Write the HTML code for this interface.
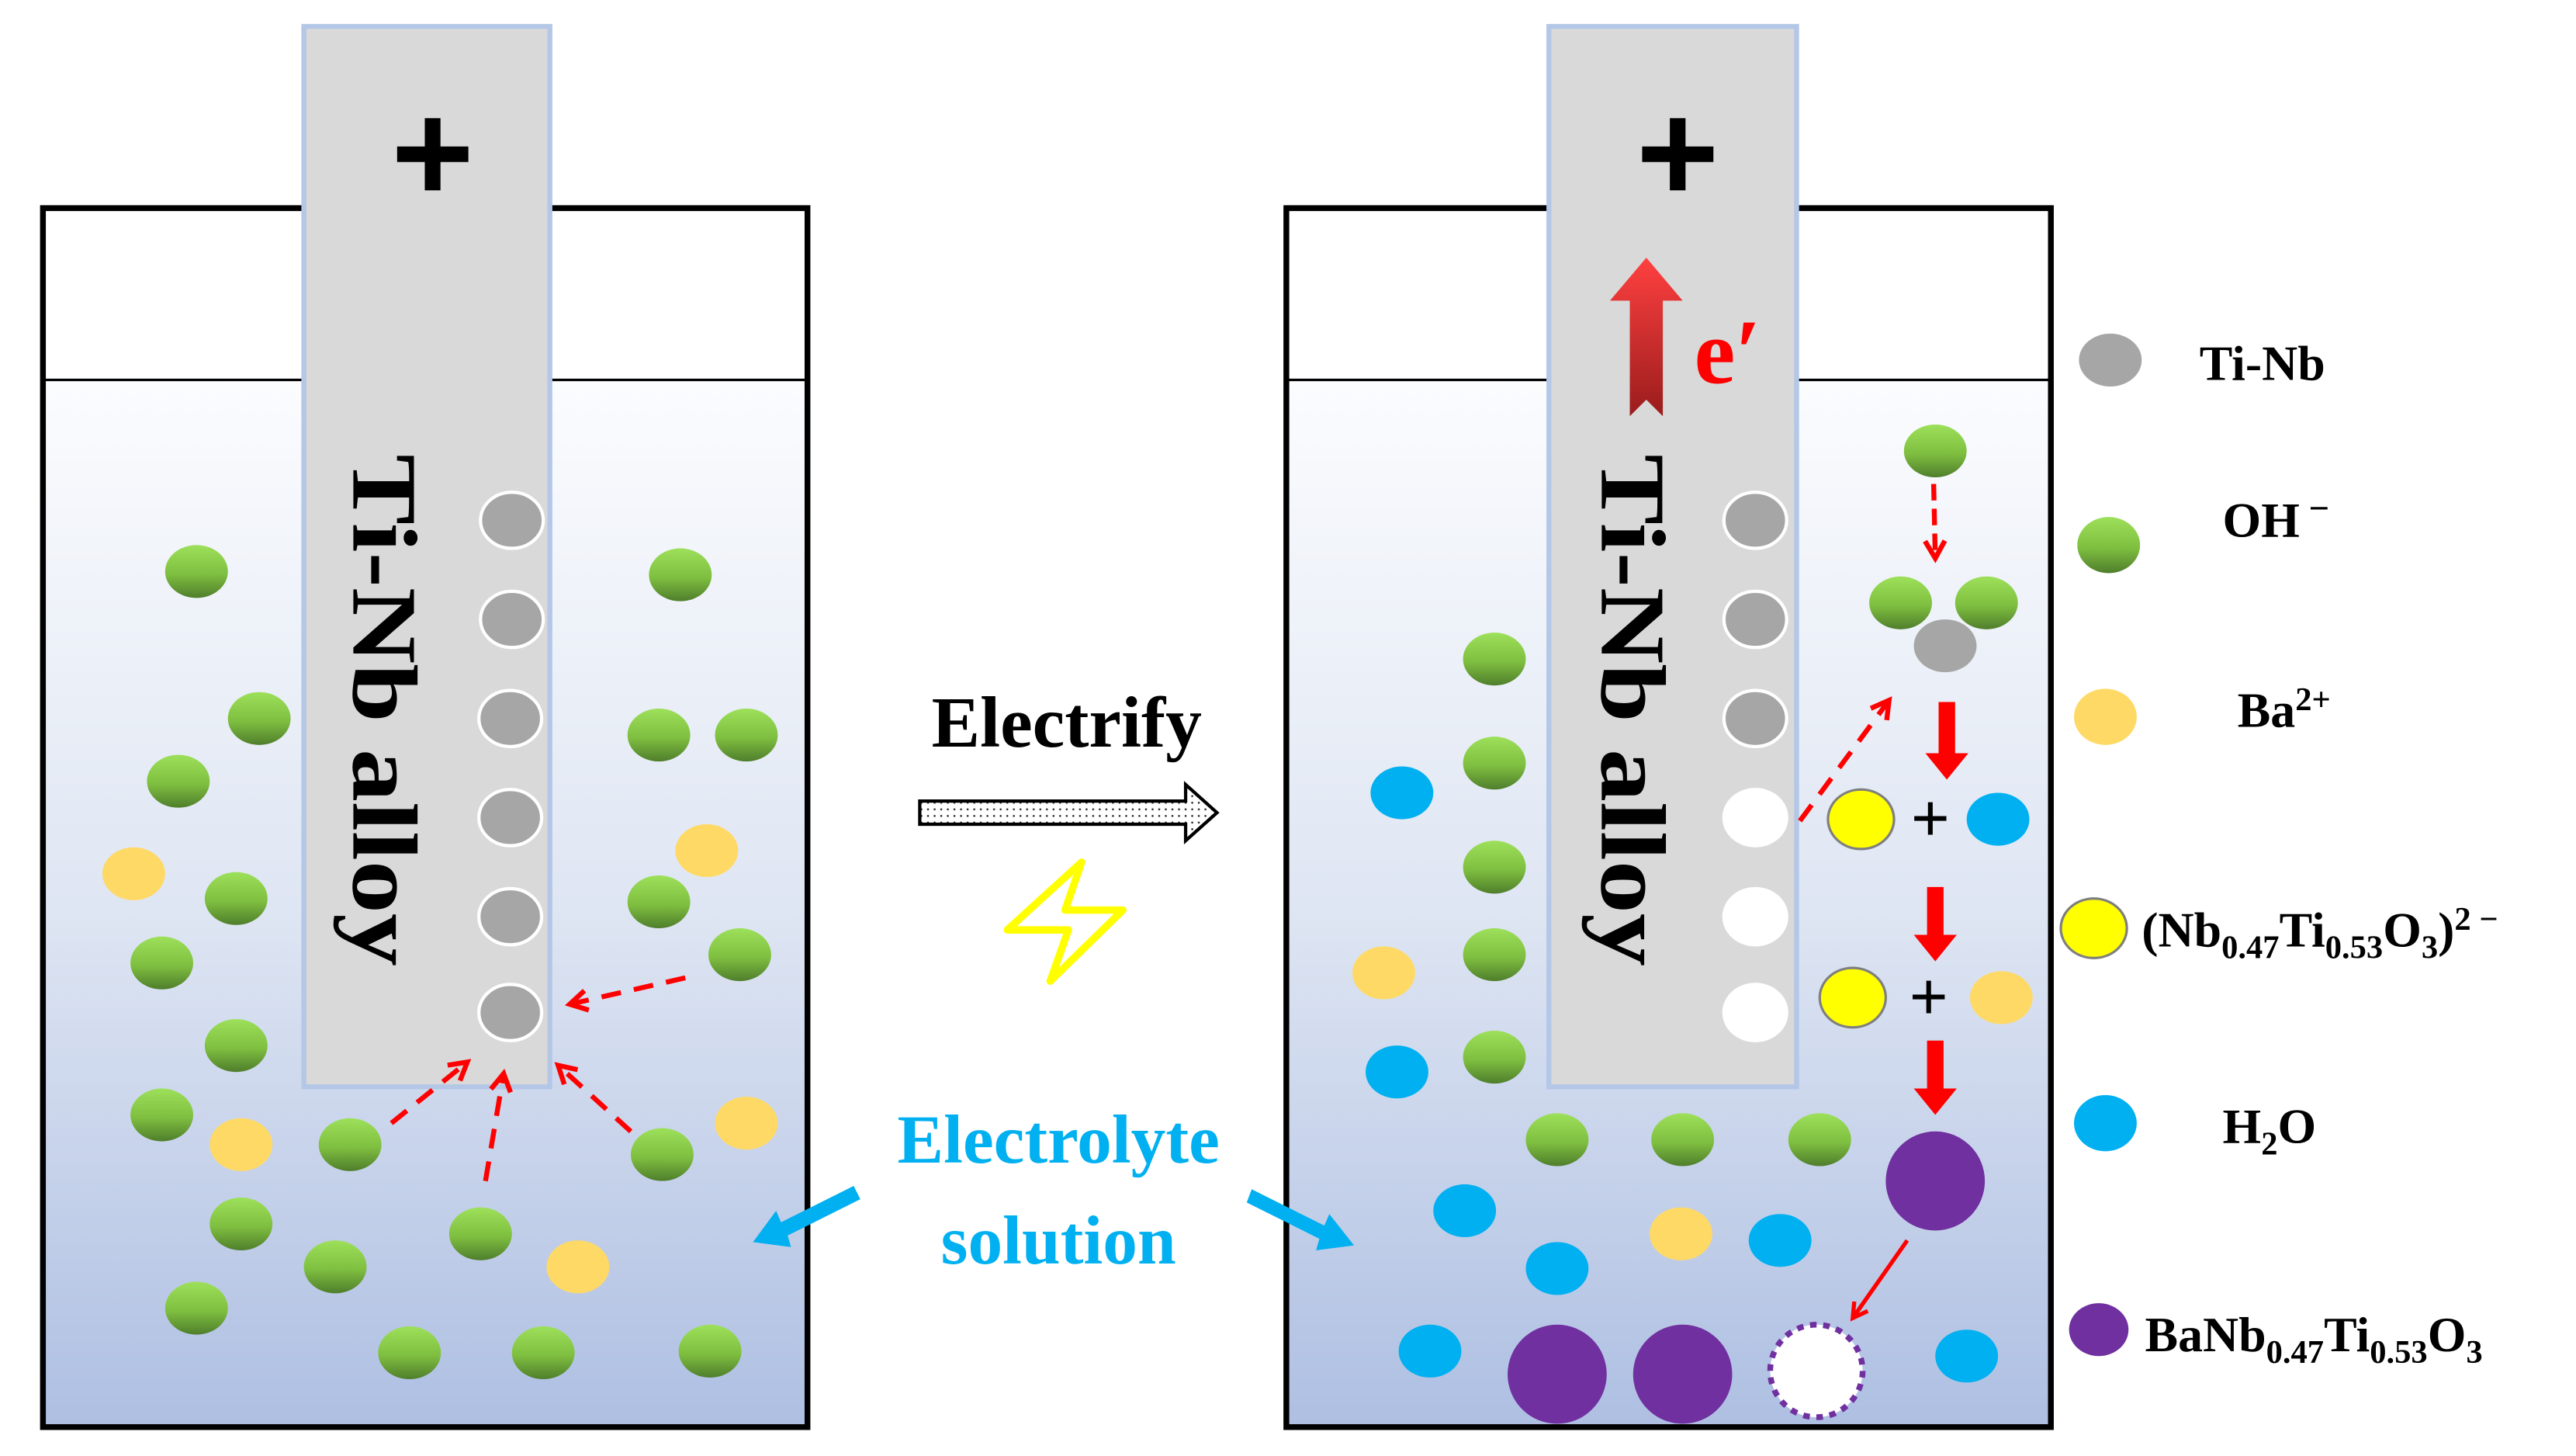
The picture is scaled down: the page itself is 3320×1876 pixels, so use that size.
<!DOCTYPE html>
<html><head><meta charset="utf-8"><style>html,body{margin:0;padding:0;background:#fff}svg{display:block}</style></head>
<body>
<svg width="3320" height="1876" viewBox="0 0 1560 881.5" xmlns="http://www.w3.org/2000/svg" font-family="Liberation Serif, serif" font-weight="bold">
<defs>
<linearGradient id="water" x1="0" y1="0" x2="0" y2="1"><stop offset="0" stop-color="#fbfcfe"/><stop offset="0.5" stop-color="#dfe6f3"/><stop offset="1" stop-color="#aebfe2"/></linearGradient>
<linearGradient id="gr" x1="0" y1="0" x2="0" y2="1"><stop offset="0" stop-color="#9de05a"/><stop offset="0.55" stop-color="#7fbf40"/><stop offset="1" stop-color="#4f7e2c"/></linearGradient>
<linearGradient id="ra" x1="0" y1="0" x2="0" y2="1"><stop offset="0" stop-color="#ff4040"/><stop offset="1" stop-color="#9a1c1c"/></linearGradient>
<pattern id="dots" width="4" height="4" patternUnits="userSpaceOnUse"><rect width="4" height="4" fill="#fff"/><circle cx="2" cy="2" r="0.6" fill="#222"/></pattern>
<marker id="ah" viewBox="0 0 10 10" refX="8" refY="5" markerWidth="5" markerHeight="5" orient="auto"><path d="M1,1 L8,5 L1,9" fill="none" stroke="#f00" stroke-width="2"/></marker>
</defs>

<!-- left beaker -->
<rect x="26" y="230" width="463" height="634" fill="url(#water)"/>
<line x1="26" y1="230" x2="489" y2="230" stroke="#000" stroke-width="1.5"/>
<rect x="26" y="126" width="463" height="738" fill="none" stroke="#000" stroke-width="3.5"/>
<rect x="184" y="16" width="149" height="642" fill="#d9d9d9" stroke="#b4c7e7" stroke-width="3"/>
<text x="262" y="122" font-size="86" text-anchor="middle" font-family="Liberation Sans, sans-serif">+</text>
<text transform="translate(214,275) rotate(90)" font-size="56" textLength="310" lengthAdjust="spacingAndGlyphs">Ti-Nb alloy</text>
<g fill="#a6a6a6" stroke="#fff" stroke-width="2">
<ellipse cx="310" cy="315" rx="19" ry="17"/><ellipse cx="310" cy="375" rx="19" ry="17"/><ellipse cx="309" cy="435" rx="19" ry="17"/><ellipse cx="309" cy="495" rx="19" ry="17"/><ellipse cx="309" cy="555" rx="19" ry="17"/><ellipse cx="309" cy="613" rx="19" ry="17"/>
</g>
<g fill="url(#gr)">
<ellipse cx="119" cy="346" rx="19" ry="16"/><ellipse cx="157" cy="435" rx="19" ry="16"/><ellipse cx="108" cy="473" rx="19" ry="16"/><ellipse cx="143" cy="544" rx="19" ry="16"/><ellipse cx="98" cy="583" rx="19" ry="16"/><ellipse cx="143" cy="633" rx="19" ry="16"/><ellipse cx="98" cy="675" rx="19" ry="16"/><ellipse cx="212" cy="693" rx="19" ry="16"/><ellipse cx="146" cy="741" rx="19" ry="16"/><ellipse cx="203" cy="767" rx="19" ry="16"/><ellipse cx="119" cy="792" rx="19" ry="16"/><ellipse cx="248" cy="819" rx="19" ry="16"/><ellipse cx="329" cy="819" rx="19" ry="16"/><ellipse cx="291" cy="747" rx="19" ry="16"/><ellipse cx="412" cy="348" rx="19" ry="16"/><ellipse cx="399" cy="445" rx="19" ry="16"/><ellipse cx="452" cy="445" rx="19" ry="16"/><ellipse cx="399" cy="546" rx="19" ry="16"/><ellipse cx="448" cy="578" rx="19" ry="16"/><ellipse cx="401" cy="699" rx="19" ry="16"/><ellipse cx="430" cy="818" rx="19" ry="16"/>
</g>
<g fill="#ffd966">
<ellipse cx="81" cy="529" rx="19" ry="16"/><ellipse cx="146" cy="693" rx="19" ry="16"/><ellipse cx="428" cy="515" rx="19" ry="16"/><ellipse cx="452" cy="680" rx="19" ry="16"/><ellipse cx="350" cy="767" rx="19" ry="16"/>
</g>
<g stroke="#f00" stroke-width="3" stroke-dasharray="12,8" fill="none" marker-end="url(#ah)">
<line x1="237" y1="680" x2="283" y2="643"/><line x1="294" y1="715" x2="305" y2="650"/><line x1="382" y1="685" x2="338" y2="645"/><line x1="415" y1="592" x2="345" y2="608"/>
</g>

<!-- right beaker -->
<rect x="779" y="230" width="463" height="634" fill="url(#water)"/>
<line x1="779" y1="230" x2="1242" y2="230" stroke="#000" stroke-width="1.5"/>
<rect x="779" y="126" width="463" height="738" fill="none" stroke="#000" stroke-width="3.5"/>
<rect x="938" y="16" width="150" height="642" fill="#d9d9d9" stroke="#b4c7e7" stroke-width="3"/>
<text x="1016" y="122" font-size="86" text-anchor="middle" font-family="Liberation Sans, sans-serif">+</text>
<path d="M997,156 L1019,182 L1007,182 L1007,252 L997,242 L987,252 L987,182 L975,182 Z" fill="url(#ra)"/>
<text x="1026" y="232" font-size="56" fill="#f00">e′</text>
<text transform="translate(970,275) rotate(90)" font-size="56" textLength="310" lengthAdjust="spacingAndGlyphs">Ti-Nb alloy</text>
<g fill="#a6a6a6" stroke="#fff" stroke-width="2">
<ellipse cx="1063" cy="315" rx="19" ry="17"/><ellipse cx="1063" cy="375" rx="19" ry="17"/><ellipse cx="1063" cy="435" rx="19" ry="17"/>
</g>
<g fill="#fff"><ellipse cx="1063" cy="495" rx="20" ry="18"/><ellipse cx="1063" cy="555" rx="20" ry="18"/><ellipse cx="1063" cy="613" rx="20" ry="18"/></g>
<g fill="url(#gr)">
<ellipse cx="905" cy="399" rx="19" ry="16"/><ellipse cx="905" cy="462" rx="19" ry="16"/><ellipse cx="905" cy="525" rx="19" ry="16"/><ellipse cx="905" cy="578" rx="19" ry="16"/><ellipse cx="905" cy="640" rx="19" ry="16"/><ellipse cx="943" cy="690" rx="19" ry="16"/><ellipse cx="1019" cy="690" rx="19" ry="16"/><ellipse cx="1102" cy="690" rx="19" ry="16"/><ellipse cx="1172" cy="273" rx="19" ry="16"/><ellipse cx="1151" cy="365" rx="19" ry="16"/><ellipse cx="1203" cy="365" rx="19" ry="16"/>
</g>
<ellipse cx="1178" cy="391" rx="19" ry="16" fill="#a6a6a6"/>
<g fill="#00b0f0">
<ellipse cx="849" cy="480" rx="19" ry="16"/><ellipse cx="846" cy="649" rx="19" ry="16"/><ellipse cx="887" cy="733" rx="19" ry="16"/><ellipse cx="943" cy="768" rx="19" ry="16"/><ellipse cx="1078" cy="751" rx="19" ry="16"/><ellipse cx="866" cy="818" rx="19" ry="16"/><ellipse cx="1191" cy="821" rx="19" ry="16"/><ellipse cx="1210" cy="496" rx="19" ry="16"/>
</g>
<g fill="#ffd966"><ellipse cx="838" cy="589" rx="19" ry="16"/><ellipse cx="1018" cy="747" rx="19" ry="16"/><ellipse cx="1212" cy="604" rx="19" ry="16"/></g>
<g fill="#ffff00" stroke="#7f7f7f" stroke-width="1.5"><ellipse cx="1127" cy="496" rx="20" ry="18"/><ellipse cx="1122" cy="604" rx="20" ry="18"/></g>
<text x="1169" y="509" font-size="40" text-anchor="middle" font-family="Liberation Sans, sans-serif" font-weight="normal">+</text>
<text x="1168" y="617" font-size="40" text-anchor="middle" font-family="Liberation Sans, sans-serif" font-weight="normal">+</text>
<g fill="#f00">
<path d="M1174,425 L1184,425 L1184,456 L1192,456 L1179,472 L1166,456 L1174,456 Z"/>
<path d="M1167,537 L1177,537 L1177,566 L1185,566 L1172,582 L1159,566 L1167,566 Z"/>
<path d="M1167,630 L1177,630 L1177,659 L1185,659 L1172,675 L1159,659 L1167,659 Z"/>
</g>
<g stroke="#f00" stroke-width="3" stroke-dasharray="12,8" fill="none" marker-end="url(#ah)">
<line x1="1090" y1="497" x2="1144" y2="424"/><line x1="1171" y1="293" x2="1172" y2="338" stroke-dasharray="10,5"/>
</g>
<line x1="1155" y1="751" x2="1122" y2="798" stroke="#f00" stroke-width="2.5" marker-end="url(#ah)"/>
<g fill="#7030a0"><circle cx="1172" cy="715" r="30"/><circle cx="943" cy="832" r="30"/><circle cx="1019" cy="832" r="30"/></g>
<circle cx="1100" cy="830" r="28" fill="#fff" stroke="#7030a0" stroke-width="3.5" stroke-dasharray="4,4"/>

<!-- middle -->
<text x="646" y="452" font-size="44" text-anchor="middle">Electrify</text>
<path d="M557,485 L718,485 L718,475 L737,492 L718,509 L718,499 L557,499 Z" fill="url(#dots)" stroke="#000" stroke-width="2"/>
<path d="M655,522 L610,563 L647,563 L636,594 L680,551 L645,551 Z" fill="none" stroke="#ffff00" stroke-width="4.5" stroke-linejoin="round"/>
<text x="641" y="704" font-size="42" text-anchor="middle" fill="#00b0f0">Electrolyte</text>
<text x="641" y="765" font-size="42" text-anchor="middle" fill="#00b0f0">solution</text>
<g fill="#00b0f0">
<path d="M517,718 L473,740 L470,733 L456,752 L479,755 L477,748 L521,726 Z"/>
<path d="M758,720 L802,742 L805,735 L820,754 L797,757 L799,750 L755,728 Z"/>
</g>

<!-- legend -->
<ellipse cx="1278" cy="218" rx="19" ry="16" fill="#a6a6a6"/>
<ellipse cx="1277" cy="330" rx="19" ry="17" fill="url(#gr)"/>
<ellipse cx="1275" cy="434" rx="19" ry="17" fill="#ffd966"/>
<ellipse cx="1268" cy="562" rx="20" ry="18" fill="#ffff00" stroke="#7f7f7f" stroke-width="1.5"/>
<ellipse cx="1275" cy="680" rx="19" ry="17" fill="#00b0f0"/>
<ellipse cx="1271" cy="805" rx="18" ry="16" fill="#7030a0"/>
<g font-size="30">
<text x="1332" y="230">Ti-Nb</text>
<text x="1346" y="325">OH<tspan dy="-10" font-size="22"> −</tspan></text>
<text x="1355" y="440">Ba<tspan dy="-10" font-size="20">2+</tspan></text>
<text x="1297" y="573">(Nb<tspan dy="7" font-size="20">0.47</tspan><tspan dy="-7">Ti</tspan><tspan dy="7" font-size="20">0.53</tspan><tspan dy="-7">O</tspan><tspan dy="7" font-size="20">3</tspan><tspan dy="-7">)</tspan><tspan dy="-10" font-size="20">2 −</tspan></text>
<text x="1346" y="692">H<tspan dy="7" font-size="20">2</tspan><tspan dy="-7">O</tspan></text>
<text x="1299" y="818">BaNb<tspan dy="7" font-size="20">0.47</tspan><tspan dy="-7">Ti</tspan><tspan dy="7" font-size="20">0.53</tspan><tspan dy="-7">O</tspan><tspan dy="7" font-size="20">3</tspan></text>
</g>
</svg>
</body></html>
